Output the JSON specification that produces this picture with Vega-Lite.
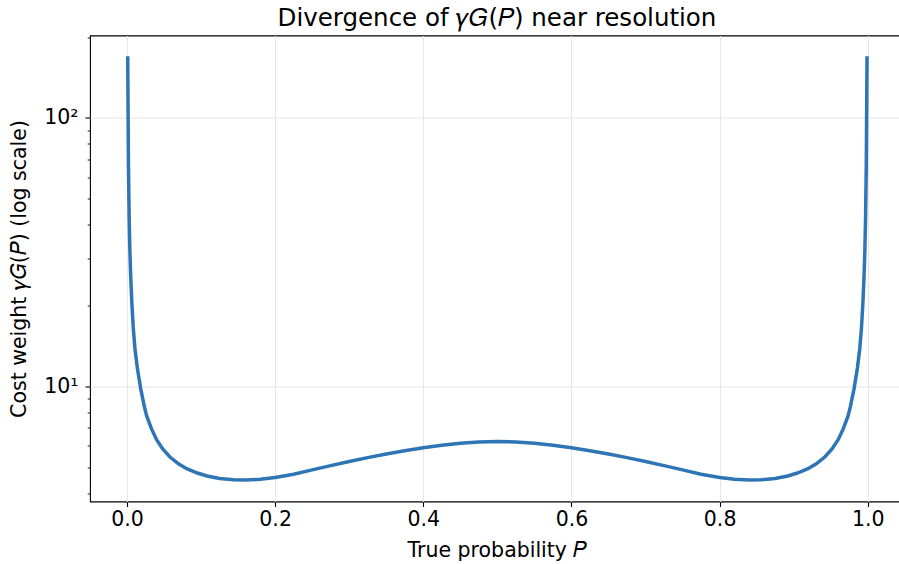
{
  "$schema": "https://vega.github.io/schema/vega-lite/v6.json",
  "width": 814,
  "height": 466,
  "autosize": {"type": "none"},
  "padding": {"left": 90, "top": 35.5, "right": 0, "bottom": 62.5},
  "background": "white",
  "config": {
    "font": "DejaVu Sans",
    "view": {"stroke": "#000000", "strokeWidth": 1.1},
    "axis": {
      "domain": false,
      "labelColor": "#000000",
      "labelFont": "DejaVu Sans",
      "labelFontSize": 20.5,
      "titleColor": "#000000",
      "titleFont": "DejaVu Sans",
      "titleFontSize": 20.5,
      "titleFontWeight": "normal",
      "tickColor": "#000000",
      "gridColor": "#e6e6e6",
      "gridWidth": 1.1
    }
  },
  "title": {
    "text": "Divergence of 𝛾𝐺(𝑃) near resolution",
    "font": "DejaVu Sans",
    "fontSize": 24.5,
    "fontWeight": "normal",
    "color": "#000000",
    "anchor": "middle",
    "frame": "group",
    "baseline": "alphabetic",
    "offset": 9,
    "dy": 24
  },
  "data": {
    "values": [
      {"P": 0.001, "gamma": 170},
      {"P": 0.002, "gamma": 67},
      {"P": 0.003, "gamma": 42},
      {"P": 0.004, "gamma": 31.6},
      {"P": 0.005, "gamma": 25.9},
      {"P": 0.0065, "gamma": 20.7},
      {"P": 0.0085, "gamma": 16.5},
      {"P": 0.0108, "gamma": 13.8},
      {"P": 0.014, "gamma": 11.7},
      {"P": 0.0185, "gamma": 9.8},
      {"P": 0.0235, "gamma": 8.4},
      {"P": 0.0266, "gamma": 7.75},
      {"P": 0.033, "gamma": 6.95},
      {"P": 0.04, "gamma": 6.32},
      {"P": 0.048, "gamma": 5.85},
      {"P": 0.058, "gamma": 5.45},
      {"P": 0.07, "gamma": 5.13},
      {"P": 0.0807, "gamma": 4.93},
      {"P": 0.095, "gamma": 4.75},
      {"P": 0.108, "gamma": 4.63},
      {"P": 0.125, "gamma": 4.53},
      {"P": 0.144, "gamma": 4.48},
      {"P": 0.16, "gamma": 4.47},
      {"P": 0.18, "gamma": 4.5},
      {"P": 0.2, "gamma": 4.57},
      {"P": 0.225, "gamma": 4.7},
      {"P": 0.25, "gamma": 4.88},
      {"P": 0.275, "gamma": 5.06},
      {"P": 0.3, "gamma": 5.24},
      {"P": 0.325, "gamma": 5.42},
      {"P": 0.35, "gamma": 5.59},
      {"P": 0.375, "gamma": 5.75},
      {"P": 0.4, "gamma": 5.9},
      {"P": 0.425, "gamma": 6.03},
      {"P": 0.45, "gamma": 6.13},
      {"P": 0.475, "gamma": 6.2},
      {"P": 0.5, "gamma": 6.22},
      {"P": 0.525, "gamma": 6.2},
      {"P": 0.55, "gamma": 6.13},
      {"P": 0.575, "gamma": 6.03},
      {"P": 0.6, "gamma": 5.9},
      {"P": 0.625, "gamma": 5.75},
      {"P": 0.65, "gamma": 5.59},
      {"P": 0.675, "gamma": 5.42},
      {"P": 0.7, "gamma": 5.24},
      {"P": 0.725, "gamma": 5.06},
      {"P": 0.75, "gamma": 4.88},
      {"P": 0.775, "gamma": 4.7},
      {"P": 0.8, "gamma": 4.57},
      {"P": 0.82, "gamma": 4.5},
      {"P": 0.84, "gamma": 4.47},
      {"P": 0.856, "gamma": 4.48},
      {"P": 0.875, "gamma": 4.53},
      {"P": 0.892, "gamma": 4.63},
      {"P": 0.905, "gamma": 4.75},
      {"P": 0.9193, "gamma": 4.93},
      {"P": 0.93, "gamma": 5.13},
      {"P": 0.942, "gamma": 5.45},
      {"P": 0.952, "gamma": 5.85},
      {"P": 0.96, "gamma": 6.32},
      {"P": 0.967, "gamma": 6.95},
      {"P": 0.9734, "gamma": 7.75},
      {"P": 0.9765, "gamma": 8.4},
      {"P": 0.9815, "gamma": 9.8},
      {"P": 0.986, "gamma": 11.7},
      {"P": 0.9892, "gamma": 13.8},
      {"P": 0.9915, "gamma": 16.5},
      {"P": 0.9935, "gamma": 20.7},
      {"P": 0.995, "gamma": 25.9},
      {"P": 0.996, "gamma": 31.6},
      {"P": 0.997, "gamma": 42},
      {"P": 0.998, "gamma": 67},
      {"P": 0.999, "gamma": 170}
    ]
  },
  "mark": {"type": "line", "color": "#2e75b6", "strokeWidth": 3.5, "clip": true},
  "encoding": {
    "x": {
      "field": "P",
      "type": "quantitative",
      "scale": {"domain": [-0.0499, 1.0489], "nice": false, "zero": false},
      "axis": {
        "values": [0, 0.2, 0.4, 0.6, 0.8, 1.0],
        "format": ".1f",
        "tickSize": 5,
        "tickWidth": 1.1,
        "labelPadding": 3,
        "grid": true,
        "title": "True probability 𝑃",
        "titlePadding": 10
      }
    },
    "y": {
      "field": "gamma",
      "type": "quantitative",
      "scale": {"type": "log", "domain": [3.72, 203], "nice": false},
      "axis": {
        "values": [4, 5, 6, 7, 8, 9, 10, 20, 30, 40, 50, 60, 70, 80, 90, 100, 200],
        "labelExpr": "datum.value == 10 ? '10¹' : (datum.value == 100 ? '10²' : '')",
        "tickSize": {"condition": {"test": "datum.value == 10 || datum.value == 100", "value": 5}, "value": 2.8},
        "tickWidth": {"condition": {"test": "datum.value == 10 || datum.value == 100", "value": 1.1}, "value": 0.9},
        "gridOpacity": {"condition": {"test": "datum.value == 10 || datum.value == 100", "value": 1}, "value": 0},
        "grid": true,
        "labelPadding": 7,
        "title": "Cost weight 𝛾𝐺(𝑃) (log scale)",
        "titlePadding": 14
      }
    }
  }
}
